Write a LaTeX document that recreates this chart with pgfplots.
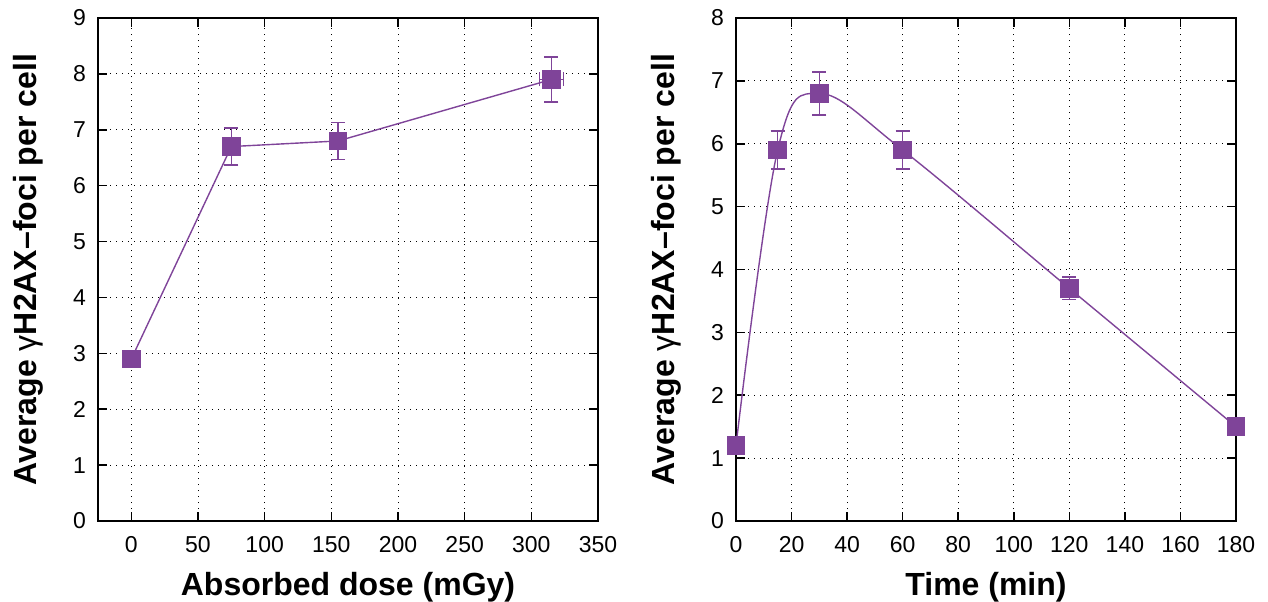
\documentclass[border=0pt]{standalone}
\usepackage{pgfplots}
\pgfplotsset{compat=1.18}
\usepackage{pgfplotstable}
\usepackage{fontspec}
\setmainfont{Liberation Sans}

\definecolor{foci}{RGB}{127,68,153}

\pgfplotstableread{
x   y    ex  ey
0   2.9  0   0
75  6.7  0   0.33
155 6.8  0   0.33
315 7.9  9   0.40
}\dosetab

\pgfplotstableread{
x   y    ey
0   1.2  0
15  5.9  0.30
30  6.8  0.34
60  5.9  0.30
120 3.7  0.18
180 1.5  0
}\timetab

\pgfplotsset{
  gpstyle/.style={
    scale only axis,
    width=250pt, height=251.5pt,
    axis line style={line width=1pt},
    tick style={black, line width=0.8pt},
    major tick length=4.5pt,
    tick align=inside,
    xtick pos=both, ytick pos=both,
    grid=major,
    major grid style={black, line width=0.5pt, dash pattern=on 0.6pt off 2.4pt},
    tick label style={font=\fontsize{11.5}{14}\selectfont},
    xticklabel style={yshift=-4pt},
    yticklabel style={xshift=-2.5pt},
    label style={font=\fontsize{16}{19}\selectfont\bfseries},
    /pgf/number format/assume math mode=true,
    ylabel={Average \textnormal{γ}H2AX–foci per cell},
    ylabel style={yshift=8pt},
    xlabel style={yshift=-3pt},
    ymin=0,
  },
  errstyle/.style={
    color=foci, line width=0.7pt,
    mark=square*, mark size=4.25pt,
    mark options={fill=foci, draw=foci, solid},
  },
}

\begin{document}
\begin{tikzpicture}
\useasboundingbox (-49pt,-40pt) rectangle (585pt,260.5pt);

\begin{axis}[
  gpstyle,
  xmin=-25, xmax=350, ymax=9,
  xtick={0,50,...,350},
  ytick={0,1,...,9},
  xlabel={Absorbed dose (mGy)},
]
\addplot[errstyle,
  error bars/.cd,
    x dir=both, x explicit,
    y dir=both, y explicit,
    error bar style={line width=0.7pt, foci},
    error mark options={rotate=90, mark size=3.5pt, line width=0.7pt, foci},
] table[x=x, y=y, x error=ex, y error=ey] {\dosetab};
\end{axis}

\begin{axis}[
  gpstyle,
  at={(319pt,0pt)},
  xmin=0, xmax=180, ymax=8,
  xtick={0,20,...,180},
  ytick={0,1,...,8},
  xlabel={Time (min)},
  clip=false,
]
\addplot[color=foci, line width=0.7pt, smooth, tension=0.6] table[x=x, y=y] {\timetab};
\addplot[errstyle, only marks,
  error bars/.cd,
    y dir=both, y explicit,
    error bar style={line width=0.7pt, foci},
    error mark options={rotate=90, mark size=3.5pt, line width=0.7pt, foci},
] table[x=x, y=y, y error=ey] {\timetab};
\end{axis}
\end{tikzpicture}
\end{document}
